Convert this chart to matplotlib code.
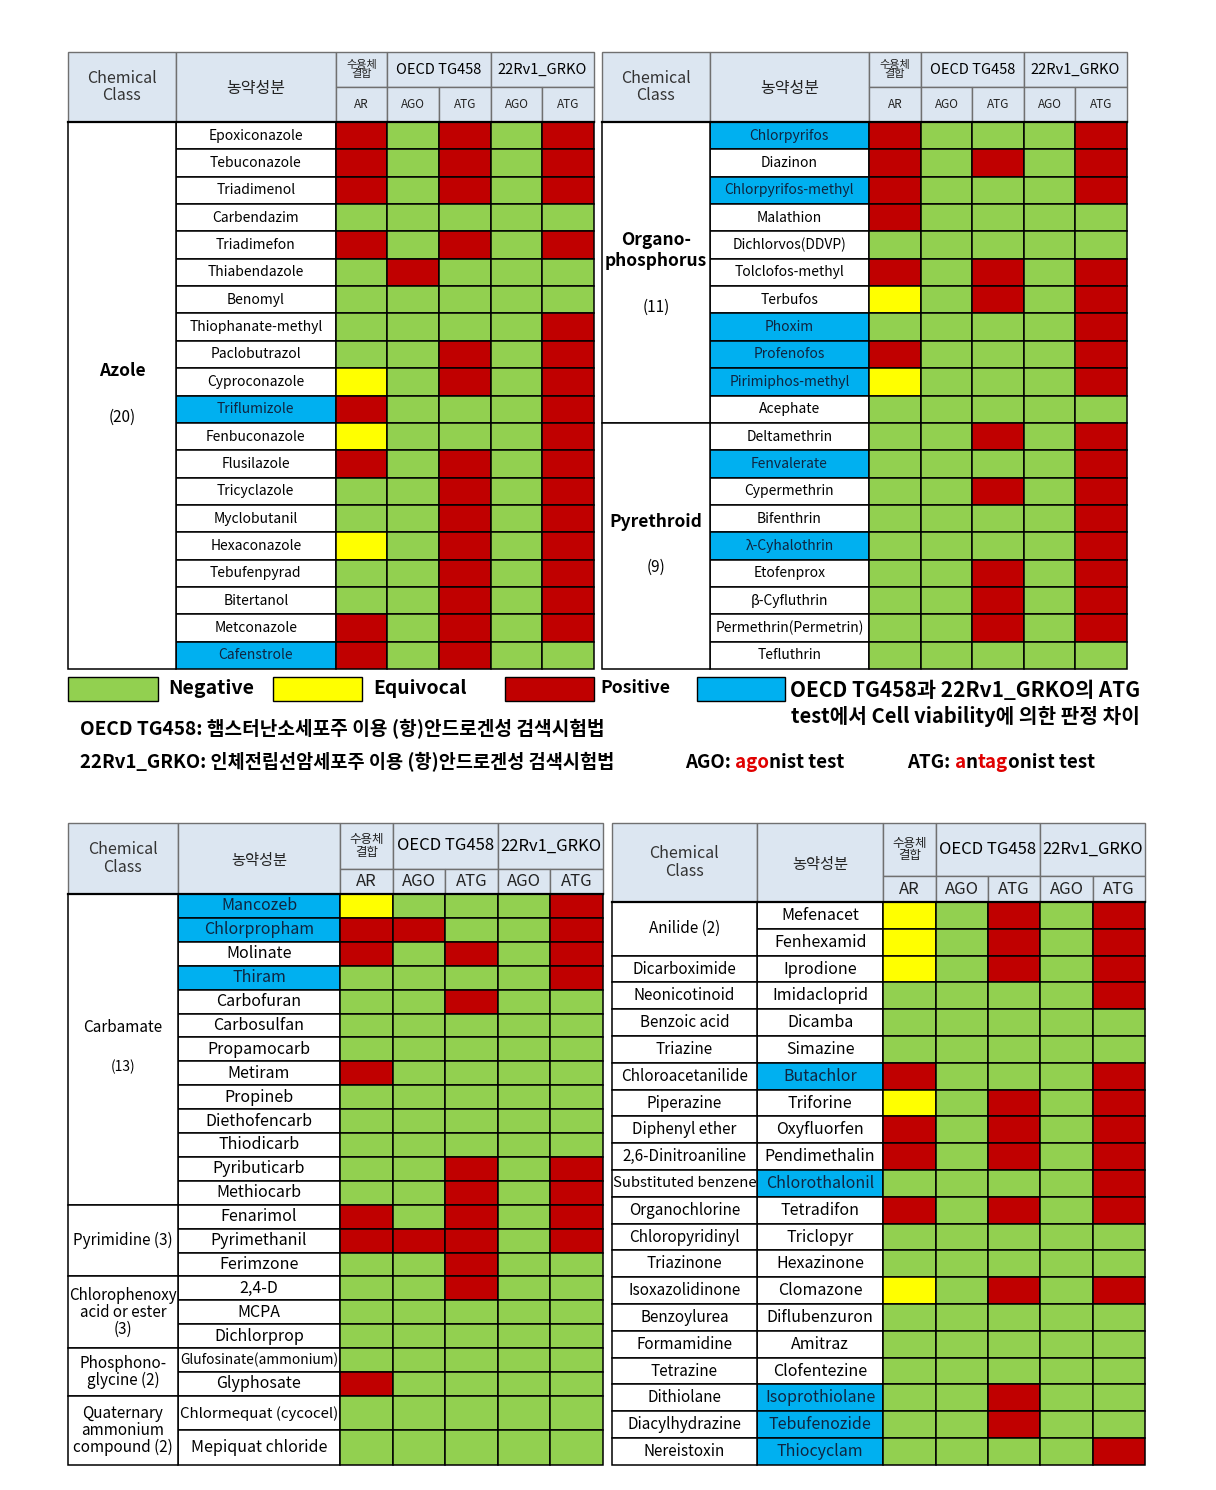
import matplotlib
matplotlib.use('Agg')
import matplotlib.pyplot as plt
from matplotlib.patches import Rectangle
import numpy as np

plt.rcParams['font.family'] = ['Noto Sans CJK KR', 'DejaVu Sans']

# 판정 코드: N = Negative, E = Equivocal, P = Positive
# 열 순서: 수용체결합 AR, OECD TG458 AGO, OECD TG458 ATG, 22Rv1_GRKO AGO, 22Rv1_GRKO ATG
results = ['AR', 'AGO', 'ATG', 'AGO', 'ATG']

# --- 표 1 (좌상): Azole ---
t1_classes = [('Azole', '(20)', 20)]
t1_names = ['Epoxiconazole', 'Tebuconazole', 'Triadimenol', 'Carbendazim', 'Triadimefon',
            'Thiabendazole', 'Benomyl', 'Thiophanate-methyl', 'Paclobutrazol', 'Cyproconazole',
            'Triflumizole', 'Fenbuconazole', 'Flusilazole', 'Tricyclazole', 'Myclobutanil',
            'Hexaconazole', 'Tebufenpyrad', 'Bitertanol', 'Metconazole', 'Cafenstrole']
t1_calls = ['PNPNP', 'PNPNP', 'PNPNP', 'NNNNN', 'PNPNP',
            'NPNNN', 'NNNNN', 'NNNNP', 'NNPNP', 'ENPNP',
            'PNNNP', 'ENNNP', 'PNPNP', 'NNPNP', 'NNPNP',
            'ENPNP', 'NNPNP', 'NNPNP', 'PNPNP', 'PNPNN']
t1_blue = ['Triflumizole', 'Cafenstrole']

# --- 표 2 (우상): Organophosphorus, Pyrethroid ---
t2_classes = [('Organo-\nphosphorus', '(11)', 11), ('Pyrethroid', '(9)', 9)]
t2_names = ['Chlorpyrifos', 'Diazinon', 'Chlorpyrifos-methyl', 'Malathion', 'Dichlorvos(DDVP)',
            'Tolclofos-methyl', 'Terbufos', 'Phoxim', 'Profenofos', 'Pirimiphos-methyl',
            'Acephate', 'Deltamethrin', 'Fenvalerate', 'Cypermethrin', 'Bifenthrin',
            'λ-Cyhalothrin', 'Etofenprox', 'β-Cyfluthrin', 'Permethrin(Permetrin)', 'Tefluthrin']
t2_calls = ['PNNNP', 'PNPNP', 'PNNNP', 'PNNNN', 'NNNNN',
            'PNPNP', 'ENPNP', 'NNNNP', 'PNNNP', 'ENNNP',
            'NNNNN', 'NNPNP', 'NNNNP', 'NNPNP', 'NNNNP',
            'NNNNP', 'NNPNP', 'NNPNP', 'NNPNP', 'NNNNN']
t2_blue = ['Chlorpyrifos', 'Chlorpyrifos-methyl', 'Phoxim', 'Profenofos', 'Pirimiphos-methyl',
           'Fenvalerate', 'λ-Cyhalothrin']

# --- 표 3 (좌하) ---
t3_classes = [('Carbamate', '(13)', 13), ('Pyrimidine (3)', None, 3),
              ('Chlorophenoxy\nacid or ester\n(3)', None, 3), ('Phosphono-\nglycine (2)', None, 2),
              ('Quaternary\nammonium\ncompound (2)', None, 2)]
t3_names = ['Mancozeb', 'Chlorpropham', 'Molinate', 'Thiram', 'Carbofuran', 'Carbosulfan',
            'Propamocarb', 'Metiram', 'Propineb', 'Diethofencarb', 'Thiodicarb', 'Pyributicarb',
            'Methiocarb', 'Fenarimol', 'Pyrimethanil', 'Ferimzone', '2,4-D', 'MCPA', 'Dichlorprop',
            'Glufosinate(ammonium)', 'Glyphosate', 'Chlormequat (cycocel)', 'Mepiquat chloride']
t3_calls = ['ENNNP', 'PPNNP', 'PNPNP', 'NNNNP', 'NNPNN', 'NNNNN',
            'NNNNN', 'PNNNN', 'NNNNN', 'NNNNN', 'NNNNN', 'NNPNP',
            'NNPNP', 'PNPNP', 'PPPNP', 'NNPNN', 'NNPNN', 'NNNNN', 'NNNNN',
            'NNNNN', 'PNNNN', 'NNNNN', 'NNNNN']
t3_blue = ['Mancozeb', 'Chlorpropham', 'Thiram']

# --- 표 4 (우하) ---
t4_classes = [('Anilide (2)', None, 2), ('Dicarboximide', None, 1), ('Neonicotinoid', None, 1),
              ('Benzoic acid', None, 1), ('Triazine', None, 1), ('Chloroacetanilide', None, 1),
              ('Piperazine', None, 1), ('Diphenyl ether', None, 1), ('2,6-Dinitroaniline', None, 1),
              ('Substituted benzene', None, 1), ('Organochlorine', None, 1),
              ('Chloropyridinyl', None, 1), ('Triazinone', None, 1), ('Isoxazolidinone', None, 1),
              ('Benzoylurea', None, 1), ('Formamidine', None, 1), ('Tetrazine', None, 1),
              ('Dithiolane', None, 1), ('Diacylhydrazine', None, 1), ('Nereistoxin', None, 1)]
t4_names = ['Mefenacet', 'Fenhexamid', 'Iprodione', 'Imidacloprid', 'Dicamba', 'Simazine',
            'Butachlor', 'Triforine', 'Oxyfluorfen', 'Pendimethalin', 'Chlorothalonil',
            'Tetradifon', 'Triclopyr', 'Hexazinone', 'Clomazone', 'Diflubenzuron', 'Amitraz',
            'Clofentezine', 'Isoprothiolane', 'Tebufenozide', 'Thiocyclam']
t4_calls = ['ENPNP', 'ENPNP', 'ENPNP', 'NNNNP', 'NNNNN', 'NNNNN',
            'PNNNP', 'ENPNP', 'PNPNP', 'PNPNP', 'NNNNP',
            'PNPNP', 'NNNNN', 'NNNNN', 'ENPNP', 'NNNNN', 'NNNNN',
            'NNNNN', 'NNPNN', 'NNPNN', 'NNNNP']
t4_blue = ['Butachlor', 'Chlorothalonil', 'Isoprothiolane', 'Tebufenozide', 'Thiocyclam']

# 색상
COL = {'N': '#92d050', 'E': '#ffff00', 'P': '#c00000'}
BLUE = '#00b0f0'
HEAD = '#dce6f1'

fig = plt.figure(figsize=(12.16, 14.90), dpi=100)
ax = fig.add_axes([0, 0, 1, 1])
ax.set_xlim(0, 1216)
ax.set_ylim(1490, 0)
ax.axis('off')
renderer = fig.canvas.get_renderer()


def cell(x0, y0, x1, y1, fc, ec='black', lw=1.1):
    ax.add_patch(Rectangle((x0, y0), x1 - x0, y1 - y0, fc=fc, ec=ec, lw=lw))


def put(x, y, s, size, maxw=None, ha='center', va='center', **kw):
    t = ax.text(x, y, s, fontsize=size, ha=ha, va=va, **kw)
    if maxw:
        w = t.get_window_extent(renderer).width
        if w > maxw:
            t.set_fontsize(size * maxw / w)
    return t


def put_w(x, y, s, width, ha='left', va='center', **kw):
    # 글자 크기를 목표 너비에 맞춤
    t = ax.text(x, y, s, fontsize=10, ha=ha, va=va, **kw)
    w = t.get_window_extent(renderer).width
    t.set_fontsize(10 * width / w)
    return t


def draw_table(left, right, name_frac, top, split, head, row_h, classes, names, calls, blue,
               fs_name, fs_class, fs_cc, fs_kor, fs_sub, fs_rec, fs_grp, top_style):
    wid = right - left
    xs = [left, left + name_frac * wid] + list(np.linspace(left + 0.509 * wid, right, 6))
    hec = '#707070'
    # 머리글
    cell(xs[0], top, xs[1], head, HEAD, hec, 1.0)
    put((xs[0] + xs[1]) / 2, (top + head) / 2, 'Chemical\nClass', fs_cc, color='#333333',
        linespacing=1.0)
    cell(xs[1], top, xs[2], head, HEAD, hec, 1.0)
    put((xs[1] + xs[2]) / 2, (top + head) / 2 + 2, '농약성분', fs_kor, color='#222222')
    cell(xs[2], top, xs[3], split, HEAD, hec, 1.0)
    put((xs[2] + xs[3]) / 2, (top + split) / 2, '수용체\n결합', fs_rec, color='#222222',
        linespacing=0.95)
    cell(xs[3], top, xs[5], split, HEAD, hec, 1.0)
    put((xs[3] + xs[5]) / 2, (top + split) / 2, 'OECD TG458', fs_grp, maxw=xs[5] - xs[3] - 4)
    cell(xs[5], top, xs[7], split, HEAD, hec, 1.0)
    put((xs[5] + xs[7]) / 2, (top + split) / 2, '22Rv1_GRKO', fs_grp, maxw=xs[7] - xs[5] - 4)
    for j, lab in enumerate(results):
        cell(xs[2 + j], split, xs[3 + j], head, HEAD, hec, 1.0)
        put((xs[2 + j] + xs[3 + j]) / 2, (split + head) / 2, lab, fs_sub, color='#222222')
    ax.plot([xs[0], xs[7]], [head, head], color='black', lw=1.6)

    ys = head + np.concatenate([[0], np.cumsum(row_h)])
    for i, (nm, cl) in enumerate(zip(names, calls)):
        y0, y1 = ys[i], ys[i + 1]
        isb = nm in blue
        cell(xs[1], y0, xs[2], y1, BLUE if isb else 'white')
        put((xs[1] + xs[2]) / 2, (y0 + y1) / 2, nm, fs_name, maxw=xs[2] - xs[1] - 3,
            color='#0f2540' if isb else 'black')
        for j, code in enumerate(cl):
            cell(xs[2 + j], y0, xs[3 + j], y1, COL[code])

    r = 0
    for label, count, n in classes:
        y0, y1 = ys[r], ys[r + n]
        r += n
        cell(xs[0], y0, xs[1], y1, 'white')
        cx, cy = (xs[0] + xs[1]) / 2, (y0 + y1) / 2
        if count and top_style:
            extra = 13 * label.count('\n')
            put(cx, cy - 15 + extra, label, fs_class, maxw=xs[1] - xs[0] - 2, va='bottom',
                weight='bold', linespacing=1.25)
            put(cx, cy + 13 + extra, count, fs_class - 1.5, va='top')
        elif count:
            put(cx, cy - 22, label, fs_class, maxw=xs[1] - xs[0] - 2)
            put(cx, cy + 18, count, fs_class - 1)
        else:
            put(cx, cy, label, fs_class, maxw=xs[1] - xs[0] - 2, linespacing=1.0)


top_rows = [27.35] * 20
draw_table(68, 594, 0.205, 52, 87, 122, top_rows, t1_classes, t1_names, t1_calls, t1_blue,
           10, 12.5, 11.5, 11.5, 8.5, 8, 10.5, True)
draw_table(602, 1127, 0.205, 52, 87, 122, top_rows, t2_classes, t2_names, t2_calls, t2_blue,
           10, 12.5, 11.5, 11.5, 8.5, 8, 10.5, True)
draw_table(68, 603, 0.205, 823, 869, 894, [23.9] * 21 + [34.5] * 2, t3_classes, t3_names,
           t3_calls, t3_blue, 11.5, 11, 11.5, 11, 12, 9, 12, False)
draw_table(612, 1145, 0.272, 823, 876, 902, [26.8] * 21, t4_classes, t4_names, t4_calls,
           t4_blue, 11.5, 11, 11.5, 11, 12, 9, 12, False)

# 범례
leg = [('N', 'Negative', 68, 158, 168, 86), ('E', 'Equivocal', 273, 362, 373, 94),
       ('P', 'Positive', 505, 594, 600, 70)]
for code, lab, x0, x1, tx, tw in leg:
    cell(x0, 677, x1, 701, COL[code], lw=1.0)
    put_w(tx, 688, lab, tw, weight='bold')
cell(697, 677, 785, 701, BLUE, lw=1.0)
put_w(790, 690, 'OECD TG458과 22Rv1_GRKO의 ATG', 350, weight='bold')
put_w(1140, 716, 'test에서 Cell viability에 의한 판정 차이', 348, ha='right', weight='bold')
put_w(80, 729, 'OECD TG458: 햄스터난소세포주 이용 (항)안드로겐성 검색시험법', 522, weight='bold')
put_w(80, 762, '22Rv1_GRKO: 인체전립선암세포주 이용 (항)안드로겐성 검색시험법', 532, weight='bold')


def pieces(x, y, parts, size):
    for s, c in parts:
        t = ax.text(x, y, s, fontsize=size, ha='left', va='center', color=c, weight='bold')
        x += t.get_window_extent(renderer).width


RED = '#e00000'
pieces(685, 762, [('AGO: ', 'black'), ('ago', RED), ('nist test', 'black')], 13.5)
pieces(907, 762, [('ATG: ', 'black'), ('a', RED), ('n', 'black'), ('tag', RED),
                  ('onist test', 'black')], 13.5)

fig.savefig('out.png', dpi=100)
